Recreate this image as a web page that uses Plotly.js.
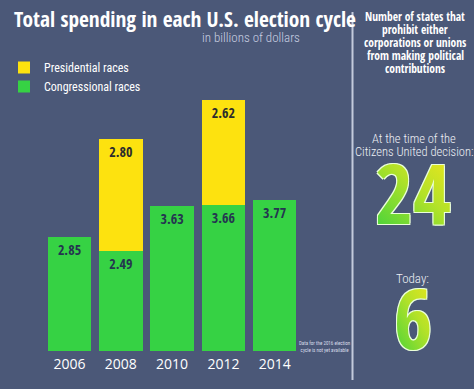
<!DOCTYPE html>
<html>
<head>
<meta charset="utf-8">
<script src="https://cdn.plot.ly/plotly-3.0.1.min.js"></script>
<style>
html,body{margin:0;padding:0;background:#4b5878;}
#chart{width:474px;height:389px;}
</style>
</head>
<body>
<div id="chart"></div>
<script>
// ---- data ----
const years = ['2006', '2008', '2010', '2012', '2014'];
const congressional = [2.85, 2.49, 3.63, 3.66, 3.77];
const presidential = [null, 2.80, null, 2.62, null];
const seriesNames = ['Congressional races', 'Presidential races'];
const statesAtDecision = 24;
const statesToday = 6;

// ---- geometry helpers (pixel -> paper) ----
const W = 474, H = 389;
const L = 30, R = 124, T = 91, B = 38;
const PW = W - L - R, PH = H - T - B;
const px = x => (x - L) / PW;
const py = y => (H - B - y) / PH;

const BG = '#4b5878';
const GREEN = '#36d244';
const YELLOW = '#fde20f';
const BOLDC = '"Open Sans Condensed", "Roboto Condensed", sans-serif';
const LIGHTC = '"Roboto Condensed", sans-serif';

const traces = [
  {
    type: 'bar', name: seriesNames[0], x: years, y: congressional,
    marker: {color: GREEN, line: {width: 0}},
    texttemplate: '%{y:.2f}', textposition: 'inside', insidetextanchor: 'end',
    constraintext: 'none', textangle: 0,
    textfont: {family: BOLDC, size: 14, color: '#243650', weight: 'bold'},
    legendgroup: 'c', hoverinfo: 'skip'
  },
  {
    type: 'bar', name: seriesNames[1], x: years, y: presidential,
    marker: {color: YELLOW, line: {width: 0}},
    texttemplate: '%{y:.2f}', textposition: 'inside', insidetextanchor: 'end',
    constraintext: 'none', textangle: 0,
    textfont: {family: BOLDC, size: 14, color: '#2c2c2c', weight: 'bold'},
    legendgroup: 'p', hoverinfo: 'skip'
  }
];

function ann(text, x, y, font, opts) {
  return Object.assign({
    text: text, xref: 'paper', yref: 'paper', x: px(x), y: py(y),
    xanchor: 'center', yanchor: 'middle', showarrow: false, font: font
  }, opts || {});
}

const OUTLINE = '1px 1px 0 #eaffd8, -1px -1px 0 #eaffd8, 1px -1px 0 #eaffd8, -1px 1px 0 #eaffd8';
const rightTitle = ['Number of states that', 'prohibit either', 'corporations or unions', 'from making political', 'contributions'];
const annotations = [];
rightTitle.forEach((t, i) => {
  annotations.push(ann(t, 415, 17 + i * 12.8, {family: BOLDC, size: 11.5, color: '#ffffff', weight: 'bold'}));
});
annotations.push(ann('in billions of dollars', 302, 37, {family: LIGHTC, size: 13, color: '#c9cfe2', weight: 300}, {xanchor: 'right'}));
annotations.push(ann('At the time of the', 414, 138, {family: LIGHTC, size: 12.5, color: '#eef0f6', weight: 300}));
annotations.push(ann('Citizens United decision:', 414, 151, {family: LIGHTC, size: 12.5, color: '#eef0f6', weight: 300}));
annotations.push(ann(String(statesAtDecision), 413, 192, {family: BOLDC, size: 82, color: '#9fe02c', weight: 'bold', shadow: OUTLINE}));
annotations.push(ann('Today:', 412, 278, {family: LIGHTC, size: 13, color: '#eef0f6', weight: 300}));
annotations.push(ann(String(statesToday), 413, 316, {family: BOLDC, size: 83, color: '#9fe02c', weight: 'bold', shadow: OUTLINE}));
annotations.push(ann('Data for the 2016 election<br>cycle is not yet available', 325, 346, {family: LIGHTC, size: 5, color: '#d8dcea'}));

const layout = {
  width: W, height: H,
  paper_bgcolor: BG, plot_bgcolor: BG,
  margin: {l: L, r: R, t: T, b: B, pad: 0, autoexpand: false},
  barmode: 'stack', bargap: 0.152,
  title: {
    text: '<b>Total spending in each U.S. election cycle</b>',
    x: 14 / W, xanchor: 'left', xref: 'container',
    y: 1 - 20 / H, yanchor: 'middle', yref: 'container',
    font: {family: BOLDC, size: 21.4, color: '#ffffff'}
  },
  xaxis: {
    type: 'category', range: [-0.77, 5.468], showgrid: false, zeroline: false,
    showline: false, ticks: '', fixedrange: true, tickangle: 0, ticklabelstandoff: 3,
    tickfont: {family: '"Open Sans", sans-serif', size: 14, color: '#ffffff'}
  },
  yaxis: {
    range: [0, PH / 40], showgrid: false, zeroline: false, showline: false,
    showticklabels: false, ticks: '', fixedrange: true
  },
  showlegend: true,
  legend: {
    traceorder: 'reversed', tracegroupgap: 9,
    x: 4 / W, xref: 'container', xanchor: 'left',
    y: 1 - 53 / H, yref: 'container', yanchor: 'top',
    bgcolor: 'rgba(0,0,0,0)', borderwidth: 0,
    font: {family: LIGHTC, size: 12, color: '#ffffff'}
  },
  shapes: [{
    type: 'line', xref: 'paper', yref: 'paper',
    x0: px(352.5), x1: px(352.5), y0: py(12), y1: py(380),
    line: {color: '#c3cadc', width: 2}
  }],
  annotations: annotations
};

Plotly.newPlot('chart', traces, layout, {displayModeBar: false, staticPlot: true}).then(gd => {
  // yellow-to-green gradient fill for the two big numbers
  const svgNS = 'http://www.w3.org/2000/svg';
  const svg = gd.querySelector('svg.main-svg');
  let defs = svg.querySelector('defs');
  if (!defs) { defs = document.createElementNS(svgNS, 'defs'); svg.insertBefore(defs, svg.firstChild); }
  const grad = document.createElementNS(svgNS, 'linearGradient');
  grad.setAttribute('id', 'numGrad');
  grad.setAttribute('x1', '0.8'); grad.setAttribute('y1', '0');
  grad.setAttribute('x2', '0.2'); grad.setAttribute('y2', '1');
  [['0', '#f4e61c'], ['0.45', '#b4e228'], ['1', '#3ed23c']].forEach(([o, c]) => {
    const s = document.createElementNS(svgNS, 'stop');
    s.setAttribute('offset', o); s.setAttribute('stop-color', c);
    grad.appendChild(s);
  });
  defs.appendChild(grad);
  gd.querySelectorAll('text.annotation-text').forEach(t => {
    if (t.textContent === String(statesAtDecision) || t.textContent === String(statesToday)) {
      t.style.fill = 'url(#numGrad)';
    }
  });
});
</script>
</body>
</html>
